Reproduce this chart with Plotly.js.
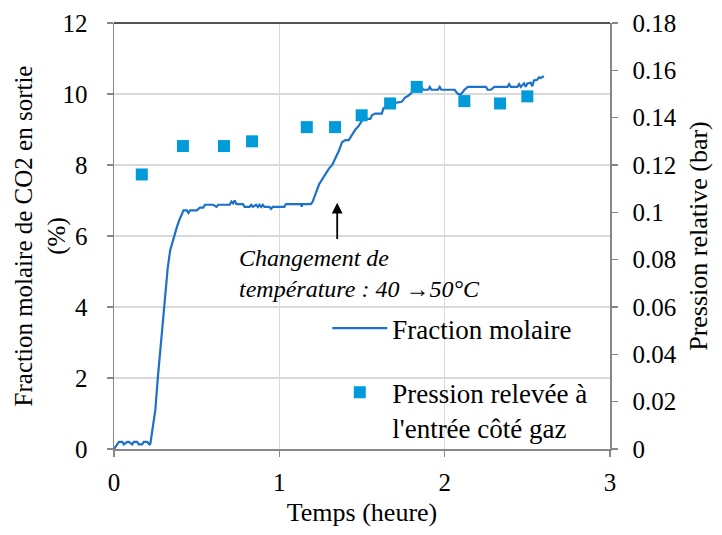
<!DOCTYPE html>
<html>
<head>
<meta charset="utf-8">
<script src="https://cdn.plot.ly/plotly-3.0.1.min.js"></script>
<style>
html,body{margin:0;padding:0;background:#fff;}
#chart{width:722px;height:535px;}
</style>
</head>
<body>
<div id="chart"></div>
<script>
// Fraction molaire de CO2 (%), axe gauche
const timeFraction = [0, 0.02, 0.03, 0.05, 0.06, 0.08, 0.09, 0.11, 0.12, 0.14, 0.15, 0.17, 0.18, 0.2, 0.215,
  0.22, 0.235, 0.25, 0.265, 0.28, 0.295, 0.31, 0.325, 0.34, 0.36, 0.38, 0.395, 0.41, 0.42, 0.44, 0.45, 0.46, 0.5,
  0.52, 0.54, 0.55, 0.6, 0.62, 0.63, 0.7, 0.71, 0.72, 0.73, 0.74, 0.78, 0.79, 0.82, 0.83, 0.84, 0.86, 0.87, 0.88,
  0.89, 0.9, 0.91, 0.94, 0.95, 0.96, 1.03, 1.04, 1.13, 1.135, 1.14, 1.19, 1.2, 1.22, 1.24, 1.26, 1.28, 1.3, 1.32,
  1.34, 1.36, 1.38, 1.4, 1.42, 1.44, 1.45, 1.46, 1.48, 1.5, 1.52, 1.55, 1.56, 1.58, 1.6, 1.62, 1.63, 1.66, 1.68,
  1.7, 1.74, 1.76, 1.78, 1.8, 1.82, 1.85, 1.86, 1.87, 1.9, 1.91, 1.92, 1.96, 1.97, 1.98, 2.06, 2.08, 2.1, 2.12,
  2.14, 2.25, 2.26, 2.28, 2.3, 2.38, 2.39, 2.4, 2.44, 2.45, 2.46, 2.48, 2.49, 2.5, 2.52, 2.53, 2.54, 2.56, 2.57,
  2.58, 2.6];
const fractionMolaire = [0, 0.15, 0.2, 0.2, 0.13, 0.2, 0.2, 0.13, 0.2, 0.2, 0.13, 0.13, 0.2, 0.2, 0.13,
  0.15, 0.6, 1.1, 2.0, 2.8, 3.7, 4.5, 5.1, 5.6, 5.95, 6.25, 6.45, 6.6, 6.72, 6.72, 6.65, 6.72, 6.72,
  6.8, 6.8, 6.88, 6.88, 6.82, 6.88, 6.88, 6.97, 6.92, 7.0, 6.9, 6.9, 6.82, 6.82, 6.88, 6.82, 6.88, 6.82, 6.88,
  6.82, 6.88, 6.82, 6.82, 6.76, 6.82, 6.82, 6.9, 6.9, 6.83, 6.9, 6.9, 6.95, 7.2, 7.45, 7.6, 7.75, 7.9, 8.0,
  8.2, 8.4, 8.65, 8.7, 8.7, 8.85, 8.95, 9.0, 9.1, 9.25, 9.3, 9.3, 9.4, 9.45, 9.45, 9.45, 9.6, 9.62, 9.7,
  9.75, 9.78, 9.9, 9.95, 10.05, 10.12, 10.12, 10.2, 10.12, 10.12, 10.2, 10.12, 10.12, 10.2, 10.12, 10.12, 10.0, 10.0, 10.12,
  10.2, 10.2, 10.12, 10.12, 10.2, 10.2, 10.28, 10.2, 10.2, 10.28, 10.2, 10.3, 10.2, 10.3, 10.32, 10.22, 10.38, 10.4, 10.47,
  10.45, 10.5];

// Pression relative relevée à l'entrée côté gaz (bar), axe droit
const timePression = [0.168, 0.417, 0.665, 0.835, 1.166, 1.337, 1.498, 1.670, 1.831, 2.119, 2.335, 2.5];
const pression = [0.116, 0.128, 0.128, 0.130, 0.136, 0.136, 0.141, 0.146, 0.153, 0.147, 0.146, 0.149];

const xTicks = [0, 1, 2, 3];
const yTicks = [0, 2, 4, 6, 8, 10, 12];
const y2Ticks = [0, 0.02, 0.04, 0.06, 0.08, 0.1, 0.12, 0.14, 0.16, 0.18];
const y2TickText = ['0', '0.02', '0.04', '0.06', '0.08', '0.1', '0.12', '0.14', '0.16', '0.18'];

const FONT = 'Liberation Serif';
const AXIS_COLOR = '#878787';

const traces = [
  {
    x: timeFraction, y: fractionMolaire, type: 'scatter', mode: 'lines',
    name: 'Fraction molaire', line: {color: '#1c71c8', width: 2.2},
    legendgroup: 'a', yaxis: 'y'
  },
  {
    x: timePression, y: pression, type: 'scatter', mode: 'markers',
    name: 'Pression relevée à<br>l\'entrée côté gaz',
    marker: {symbol: 'square', size: 12, color: '#009bd8'},
    legendgroup: 'b', yaxis: 'y2'
  }
];

const tickFont = {family: FONT, size: 25, color: '#000'};

const layout = {
  width: 722, height: 535,
  margin: {l: 114, r: 112, t: 23, b: 86},
  paper_bgcolor: '#fff', plot_bgcolor: '#fff',
  font: {family: FONT, size: 25, color: '#000'},
  showlegend: true,
  legend: {
    x: 0.43, y: 0.34, xanchor: 'left', yanchor: 'top',
    bgcolor: 'rgba(0,0,0,0)', font: {family: FONT, size: 27, color: '#000'},
    itemwidth: 55, valign: 'top', tracegroupgap: 26
  },
  xaxis: {
    range: [0, 3], tickvals: xTicks, ticktext: xTicks.map(String), tickfont: tickFont,
    showgrid: true, gridcolor: '#d9d9d9', gridwidth: 1.3,
    showline: true, linecolor: AXIS_COLOR, linewidth: 1.5,
    ticks: 'outside', ticklen: 6, tickcolor: AXIS_COLOR, tickwidth: 1.5,
    zeroline: false, ticklabelstandoff: 4,
    title: {text: 'Temps (heure)', font: {family: FONT, size: 26, color: '#000'}, standoff: 8}
  },
  yaxis: {
    range: [0, 12], tickvals: yTicks, ticktext: yTicks.map(String), tickfont: tickFont,
    showgrid: true, gridcolor: '#d9d9d9', gridwidth: 1.3,
    showline: true, linecolor: AXIS_COLOR, linewidth: 1.5,
    ticks: 'outside', ticklen: 6, tickcolor: AXIS_COLOR, tickwidth: 1.5,
    zeroline: false, ticklabelstandoff: 14,
    title: {text: 'Fraction molaire de CO2 en sortie<br>(%)', font: {family: FONT, size: 25, color: '#000'}, standoff: 2}
  },
  yaxis2: {
    range: [0, 0.18], tickvals: y2Ticks, ticktext: y2TickText, tickfont: tickFont,
    overlaying: 'y', side: 'right', showgrid: false,
    showline: true, linecolor: AXIS_COLOR, linewidth: 1.5,
    ticks: 'outside', ticklen: 6, tickcolor: AXIS_COLOR, tickwidth: 1.5,
    zeroline: false, ticklabelstandoff: 10,
    title: {text: 'Pression relative (bar)', font: {family: FONT, size: 26, color: '#000'}, standoff: 8}
  },
  shapes: [
    {type: 'line', xref: 'paper', yref: 'paper', x0: 0, x1: 1, y0: 1, y1: 1,
     line: {color: '#1a1a1a', width: 1.5}}
  ],
  annotations: [
    {x: 1.35, y: 6.94, ax: 1.35, ay: 5.87, xref: 'x', yref: 'y', axref: 'x', ayref: 'y',
     text: '', showarrow: true, arrowhead: 2, arrowsize: 1.2, arrowwidth: 1.8, arrowcolor: '#000'},
    {x: 0.742, y: 4.94, xref: 'x', yref: 'y', xanchor: 'left', yanchor: 'middle', align: 'left',
     text: '<i>Changement de<br>température : 40 →50°C</i>', showarrow: false,
     font: {family: FONT, size: 24, color: '#000'}}
  ]
};

function refineText(gd) {
  gd.querySelectorAll('text').forEach(function (el) {
    el.style.opacity = '1';
    el.style.fontFamily = '"Liberation Serif", "Times New Roman", serif';
  });
}

const config = {displayModeBar: false, staticPlot: true};
Plotly.newPlot('chart', traces, layout, config).then(function (gd) {
  refineText(gd);
  const yt = gd.querySelector('.ytitle');
  if (yt) yt.setAttribute('transform', 'translate(10,0) ' + (yt.getAttribute('transform') || ''));
  const y2t = gd.querySelector('.y2title');
  if (y2t) y2t.setAttribute('transform', 'translate(5,0) ' + (y2t.getAttribute('transform') || ''));
  setTimeout(function () { refineText(gd); }, 30);
});
</script>
</body>
</html>
